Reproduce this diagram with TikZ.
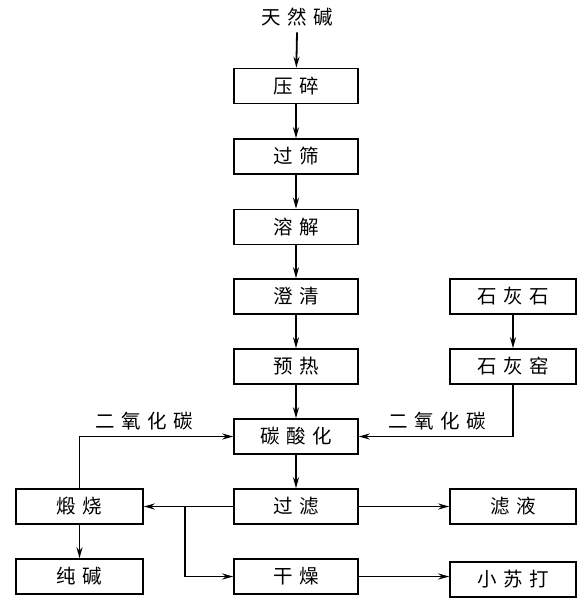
\documentclass[tikz,border=0pt]{standalone}
\usepackage{fontspec}
\newfontfamily\cjk{Noto Sans CJK SC}
\newcommand\ks{\kern6.5pt}
\usetikzlibrary{arrows.meta,calc}
\begin{document}
\begin{tikzpicture}[x=1pt,y=-1pt,
  font=\cjk\fontsize{19.5}{22}\selectfont,
  box/.style={draw,line width=1.5pt,minimum height=35pt,inner sep=0pt},
  midbox/.style={box,minimum width=124pt},
  sidebox/.style={box,minimum width=126pt},
  lbl/.style={inner sep=0pt},
  arr/.style={line width=1.8pt,-{Stealth[length=11pt,width=6pt]}}]
\useasboundingbox (0,0) rectangle (579,602);
\node[lbl] (tn) at (297,17) {天\ks 然\ks 碱};
\node[midbox] (yasui) at (296,86) {压\ks 碎};
\node[midbox] (guoshai) at (296,156.5) {过\ks 筛};
\node[midbox] (rongjie) at (296,227) {溶\ks 解};
\node[midbox] (chengqing) at (296,296.5) {澄\ks 清};
\node[midbox] (yure) at (296,366.5) {预\ks 热};
\node[midbox] (tansuan) at (296,436.5) {碳\ks 酸\ks 化};
\node[midbox] (guolv) at (296,506.5) {过\ks 滤};
\node[midbox] (ganzao) at (296,576.5) {干\ks 燥};
\node[sidebox] (shihuishi) at (513,296.5) {石\ks 灰\ks 石};
\node[sidebox] (shihuiyao) at (513,366.5) {石\ks 灰\ks 窑};
\node[sidebox] (lvye) at (513,506.5) {滤\ks 液};
\node[sidebox] (xiaosuda) at (513,579.5) {小\ks 苏\ks 打};
\node[box,minimum width=127pt] (duanshao) at (79.5,506.5) {煅\ks 烧};
\node[box,minimum width=127pt] (chunjian) at (79.5,576.5) {纯\ks 碱};
\node[lbl] (co2l) at (144,421) {二\ks 氧\ks 化\ks 碳};
\node[lbl] (co2r) at (437,421) {二\ks 氧\ks 化\ks 碳};
\coordinate (br) at (185,506.5);
\draw[arr] ($(tn.south)+(0,6)$) -- (yasui);
\draw[arr] (yasui) -- (guoshai);
\draw[arr] (guoshai) -- (rongjie);
\draw[arr] (rongjie) -- (chengqing);
\draw[arr] (chengqing) -- (yure);
\draw[arr] (yure) -- (tansuan);
\draw[arr] (tansuan) -- (guolv);
\draw[arr] (shihuishi) -- (shihuiyao);
\draw[arr] (shihuiyao.south) |- (tansuan.east);
\draw[arr] (duanshao.north) |- (tansuan.west);
\draw[arr] (guolv.west) -- (duanshao.east);
\draw[arr] (br) |- (ganzao.west);
\draw[arr] (guolv.east) -- (lvye.west);
\draw[arr] (ganzao.east) -- (ganzao.east -| xiaosuda.west);
\draw[arr] (duanshao) -- (chunjian);
\end{tikzpicture}
\end{document}
